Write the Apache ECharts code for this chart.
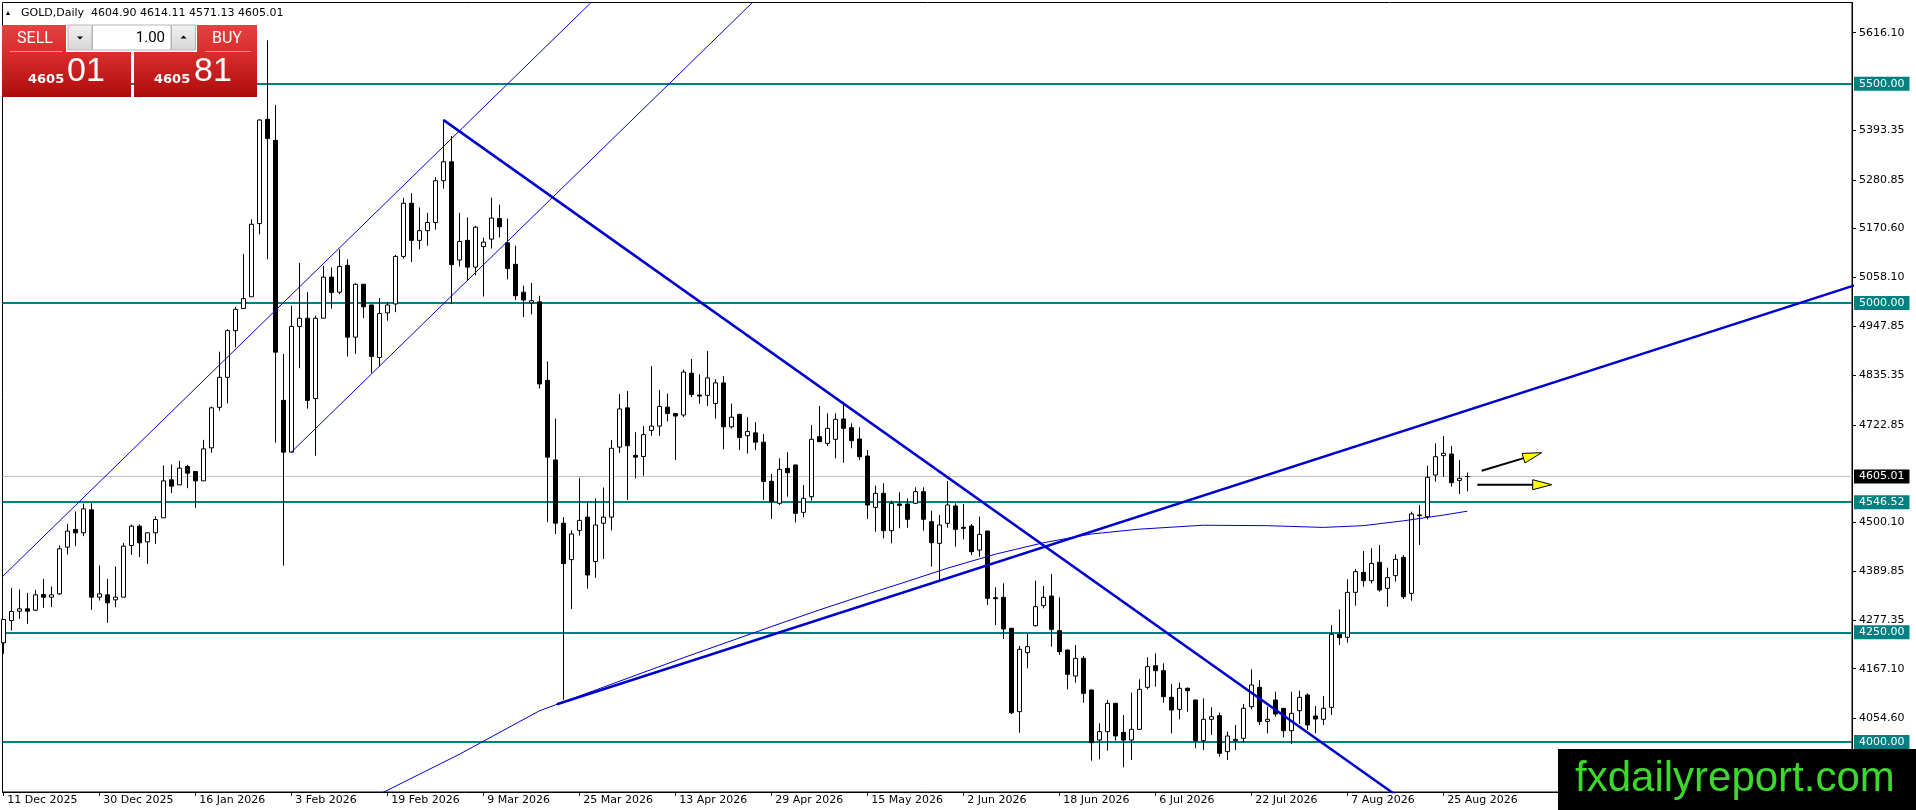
<!DOCTYPE html>
<html><head><meta charset="utf-8">
<script src="https://cdn.jsdelivr.net/npm/echarts@6/dist/echarts.min.js"></script>
<style>html,body{margin:0;padding:0;background:#fff}#c{width:1916px;height:810px}</style>
</head><body><div id="c"></div>
<script>
// ---- data ----
const opens = [4226.1,4276.9,4298.2,4303.5,4300.5,4336.2,4330.1,4337.7,4444.0,4484.3,4476.7,4529.0,4330.1,4335.4,4324.0,4330.1,4447.8,4491.9,4456.1,4476.7,4510.8,4597.4,4586.0,4627.8,4616.4,4595.1,4670.3,4762.6,4831.0,4937.2,
4987.6,5014.4,5181.2,5418.8,5370.8,4778.5,4660.5,4946.9,4965.6,4782.5,4965.6,5059.2,5025.0,5086.0,4922.5,5042.9,4995.7,4876.1,4977.8,4998.1,5106.4,5227.6,5143.0,5165.0,5183.7,5278.9,5322.0,5098.2,5143.0,5082.0,
5128.8,5145.8,5192.6,5137.3,5088.5,5025.0,5000.6,5003.0,4824.0,4642.6,4498.6,4415.6,4482.3,4512.4,4411.5,4498.6,4512.4,4671.9,4761.4,4653.2,4650.7,4710.1,4719.9,4763.0,4748.4,4745.1,4840.3,4790.7,4789.9,4771.1,
4818.3,4718.2,4746.7,4697.9,4704.4,4683.3,4594.0,4543.8,4623.6,4631.2,4523.3,4559.0,4695.8,4680.5,4689.7,4736.0,4716.2,4690.4,4651.7,4534.7,4566.6,4481.6,4542.3,4542.3,4543.9,4570.4,4502.1,4452.7,4498.3,4537.8,
4489.2,4492.2,4437.5,4480.8,4328.9,4329.7,4259.1,4069.2,4203.6,4265.1,4310.7,4332.7,4253.8,4209.7,4150.5,4190.7,4118.6,4004.7,4023.7,4088.2,4022.1,4004.7,4028.9,4124.7,4174.0,4162.6,4101.9,4074.5,4122.4,4095.8,
4003.2,4051.8,4060.1,3978.1,4003.2,4008.5,4080.6,4124.7,4047.2,4095.8,4076.8,4025.9,4071.5,4107.2,4059.3,4051.8,4079.1,4245.4,4238.6,4341.1,4386.6,4367.7,4409.4,4350.2,4379.1,4420.8,4338.8,4517.3,4513.5,4608.4,
4652.4,4656.2,4596.2,4604.90];
const highs = [4279.5,4351.3,4347.5,4339.9,4346.8,4371.9,4354.4,4447.8,4497.2,4525.3,4542.7,4544.2,4402.2,4371.9,4399.9,4453.9,4495.6,4495.6,4478.0,4514.6,4630.1,4632.3,4640.7,4631.6,4617.0,4688.5,4764.5,4889.4,4940.3,4991.9,
5112.1,5191.0,5418.8,5598.6,5451.4,4884.2,4994.1,5091.7,5025.0,4971.3,5085.2,5081.1,5122.6,5099.9,5045.4,5043.5,4996.5,5012.0,5002.2,5109.6,5239.8,5250.4,5217.9,5205.6,5287.0,5417.2,5380.6,5205.6,5195.0,5175.5,
5149.0,5240.2,5224.4,5192.6,5130.8,5039.7,5046.2,5016.9,4867.2,4737.0,4512.4,4482.3,4601.9,4547.4,4555.5,4579.9,4688.1,4793.1,4799.6,4706.0,4719.9,4856.6,4802.1,4793.9,4749.5,4848.4,4872.8,4837.9,4890.7,4826.5,
4833.8,4771.1,4747.5,4740.2,4728.8,4702.0,4610.7,4646.4,4660.1,4632.0,4585.6,4722.3,4765.6,4748.9,4748.9,4775.5,4726.1,4717.0,4665.4,4584.1,4589.4,4549.9,4568.9,4555.2,4580.3,4580.3,4527.1,4517.3,4594.7,4543.9,
4542.3,4496.8,4513.5,4481.5,4352.5,4361.6,4260.0,4218.8,4246.2,4367.7,4355.5,4382.9,4329.7,4210.5,4221.1,4196.0,4119.4,4042.7,4095.8,4089.0,4061.6,4112.5,4142.9,4193.0,4202.1,4179.3,4132.3,4135.3,4124.7,4096.5,
4099.6,4079.1,4066.9,4023.7,4038.9,4086.7,4165.7,4141.4,4080.6,4114.8,4077.5,4114.8,4117.1,4111.0,4082.1,4104.9,4266.6,4302.3,4370.7,4394.2,4435.2,4441.3,4448.9,4397.3,4427.7,4426.1,4524.9,4540.0,4629.7,4680.5,
4697.2,4674.5,4642.6,4614.11];
const lows = [4201.0,4254.1,4280.7,4269.3,4298.2,4305.8,4307.3,4335.4,4427.3,4446.3,4469.1,4301.2,4322.5,4271.6,4307.3,4330.1,4426.5,4421.2,4406.0,4451.6,4510.8,4567.0,4586.0,4578.4,4533.6,4595.1,4658.9,4755.0,4771.7,4899.3,
4987.6,5014.4,5156.8,5099.9,4682.4,4401.7,4659.0,4851.7,4759.7,4652.3,4965.6,4987.6,5020.1,4878.5,4884.2,4965.6,4841.1,4855.7,4959.9,4979.4,5101.5,5093.4,5122.6,5130.8,5167.4,5261.0,4998.1,5083.6,5051.0,5063.2,
5015.0,5124.7,5149.5,5054.3,5007.1,4968.0,4974.5,4805.3,4501.0,4474.1,4095.8,4303.3,4470.1,4349.6,4374.1,4417.2,4482.3,4658.8,4551.4,4600.3,4606.8,4697.9,4697.9,4730.4,4642.6,4740.2,4785.8,4771.1,4765.4,4737.0,
4667.0,4714.2,4665.4,4657.2,4665.4,4551.4,4508.2,4540.1,4559.0,4500.5,4511.9,4549.9,4683.5,4674.5,4646.4,4636.5,4669.2,4642.6,4508.2,4479.3,4464.1,4452.7,4486.9,4488.4,4542.3,4481.6,4399.6,4369.2,4488.4,4445.1,
4461.8,4426.1,4422.3,4312.2,4266.6,4234.8,4063.9,4021.4,4167.9,4262.9,4304.6,4217.3,4198.3,4120.1,4135.3,4089.7,3957.6,3960.6,3980.4,4003.2,3942.4,3959.1,4027.5,4120.1,4126.2,4089.7,4019.9,4051.8,4069.2,3985.7,
3981.9,4016.1,3966.7,3959.1,3981.9,3998.6,4074.5,4038.9,4019.9,4057.8,4010.8,3995.6,4041.1,4027.5,4019.9,4038.9,4061.6,4221.1,4226.4,4310.7,4354.0,4361.6,4342.6,4308.4,4365.4,4325.9,4322.1,4448.9,4507.4,4593.2,
4604.6,4581.8,4565.1,4571.13];
const closes = [4279.2,4297.4,4303.5,4298.2,4335.4,4330.1,4335.4,4440.2,4480.5,4476.7,4531.3,4330.1,4337.7,4317.2,4330.1,4446.3,4491.9,4453.9,4476.7,4507.0,4595.1,4583.0,4624.0,4612.6,4595.1,4668.0,4761.4,4831.0,4937.2,4985.8,
5010.3,5179.6,5417.2,5374.9,4888.3,4660.5,4946.9,4965.6,4778.5,4965.6,5059.2,5024.2,5083.6,4922.5,5042.9,4991.6,4878.5,4976.2,4995.7,5106.4,5227.6,5143.0,5165.0,5183.7,5278.9,5322.0,5087.6,5140.5,5082.0,5173.0,
5138.9,5193.8,5173.9,5078.7,5016.9,5007.1,5005.5,4815.9,4649.1,4498.6,4406.6,4474.1,4505.1,4380.6,4494.5,4512.4,4669.4,4758.9,4675.1,4649.1,4700.3,4719.9,4764.6,4748.4,4742.7,4843.0,4791.5,4788.2,4829.7,4818.3,
4718.2,4740.2,4693.8,4707.7,4683.3,4593.5,4547.6,4621.3,4613.7,4521.0,4555.2,4689.7,4684.3,4714.7,4735.3,4714.7,4686.6,4650.2,4540.1,4566.6,4481.6,4543.9,4539.3,4507.4,4570.4,4507.4,4454.2,4494.5,4540.1,4484.6,
4486.9,4433.7,4473.2,4327.4,4326.6,4257.6,4066.9,4211.2,4217.3,4308.4,4329.7,4256.8,4205.9,4154.3,4190.7,4111.0,3998.6,4023.7,4088.2,4013.8,4004.7,4028.9,4120.1,4171.8,4162.6,4103.4,4073.0,4122.4,4117.1,4003.2,
4051.8,4057.8,3974.3,4013.8,4006.2,4076.8,4130.0,4046.4,4051.8,4063.9,4025.9,4065.4,4101.9,4038.9,4052.5,4076.8,4245.4,4237.8,4341.1,4388.2,4367.7,4407.1,4346.4,4374.5,4416.3,4331.2,4519.6,4515.7,4603.1,4650.2,
4657.8,4590.9,4600.8,4605.01];

// date label shown every 12 bars (bar 0 = 11 Dec 2025)
const dateTicks = ['11 Dec 2025','30 Dec 2025','16 Jan 2026','3 Feb 2026','19 Feb 2026','9 Mar 2026','25 Mar 2026','13 Apr 2026','29 Apr 2026','15 May 2026','2 Jun 2026','18 Jun 2026','6 Jul 2026','22 Jul 2026','7 Aug 2026','25 Aug 2026'];
const dateTickStep = 12;
const priceTicks = [5616.10,5393.35,5280.85,5170.60,5058.10,4947.85,4835.35,4722.85,4500.10,4389.85,4277.35,4167.10,4054.60];
const levels = [5500.00, 5000.00, 4546.52, 4250.00, 4000.00];
const lastPrice = 4605.01;
const header = 'GOLD,Daily  4604.90 4614.11 4571.13 4605.01';
// moving average (bar index, value)
const maLine = [[47,3881],[57,3972],[67,4071],[75,4125],[85,4192],[96,4263],[102,4301],[108,4337],[113,4366],[118,4396],[124,4428],[130,4454],[136,4474],[142,4485],[150,4494],[158,4493],[165,4489],[170,4493],[175,4504],[180,4517],[183,4526]];
// trend lines (bar index, price)
const channelUpper = [[-1,4361],[80,5801]];
const channelLower = [[36,4660.5],[100,5797.8]];
const downTrend = [[55,5417.5],[180,3802.5]];
const upTrend = [[69.2,4086],[240,5091]];
// arrows [fromBar, fromPrice, toBar, toPrice]
const arrows = [[184.8,4618.2,192.3,4659.2],[184.25,4586.3,193.55,4586.3]];

const FONT = 'DejaVu Sans';
const candleData = opens.map((o, i) => [i, o, closes[i], lows[i], highs[i]]);
const tickBars = dateTicks.map((_, k) => k * dateTickStep);

function lineSeries(data, width, z) {
  return { type: 'line', data, showSymbol: false, symbol: 'none', silent: true, z: z || 5,
    lineStyle: { color: '#0000cd', width }, animation: false };
}

const chart = echarts.init(document.getElementById('c'), null, { renderer: 'canvas' });
const levelMarks = levels.map(v => ({
  yAxis: v,
  lineStyle: { color: '#008080', width: 2, type: 'solid' },
  label: { show: true, position: 'end', distance: 2, formatter: v.toFixed(2),
    backgroundColor: '#008080', color: '#fff', fontFamily: FONT, fontSize: 11, lineHeight: 12, padding: [1, 5, 1, 5] }
}));
levelMarks.unshift({
  yAxis: lastPrice,
  lineStyle: { color: '#c0c0c0', width: 1, type: 'solid' },
  label: { show: true, position: 'end', distance: 2, formatter: lastPrice.toFixed(2),
    backgroundColor: '#000', color: '#fff', fontFamily: FONT, fontSize: 11, lineHeight: 12, padding: [1, 5, 1, 5] }
});

const option = {
  animation: false,
  backgroundColor: '#fff',
  grid: { left: 2.5, right: 64, top: 2.5, bottom: 18, show: true, borderColor: '#000', borderWidth: 1, backgroundColor: 'transparent' },
  xAxis: {
    type: 'value', min: -0.1, max: 231.0875,
    splitLine: { show: false },
    axisLine: { show: true, onZero: false, lineStyle: { color: '#000', width: 1 } },
    axisTick: { show: true, customValues: tickBars, length: 4, lineStyle: { color: '#000' } },
    axisLabel: { show: true, customValues: tickBars, align: 'left', margin: 3, padding: [0, 0, 0, 4],
      color: '#000', fontFamily: FONT, fontSize: 11,
      formatter: v => dateTicks[Math.round(v / dateTickStep)] || '' }
  },
  yAxis: {
    type: 'value', position: 'right', min: 3886.2, max: 5684.9,
    splitLine: { show: false },
    axisLine: { show: true, onZero: false, lineStyle: { color: '#000', width: 1 } },
    axisTick: { show: true, customValues: priceTicks, length: 4, lineStyle: { color: '#000' } },
    axisLabel: { show: true, customValues: priceTicks, margin: 7, color: '#000', fontFamily: FONT, fontSize: 11,
      formatter: v => v.toFixed(2) }
  },
  series: [
    {
      type: 'candlestick', data: candleData, barWidth: 4, z: 3,
      itemStyle: { color: '#fff', color0: '#000', borderColor: '#000', borderColor0: '#000', borderWidth: 1 },
      markLine: { silent: true, symbol: ['none', 'none'], animation: false, z: 2, data: levelMarks }
    },
    lineSeries(maLine, 1, 6),
    lineSeries(channelUpper, 1, 6),
    lineSeries(channelLower, 1, 6),
    lineSeries(downTrend, 2.5, 7),
    lineSeries(upTrend, 2.5, 7),
    {
      type: 'custom', data: arrows, z: 8, silent: true,
      renderItem: (params, api) => {
        const p1 = api.coord([api.value(0), api.value(1)]);
        const p2 = api.coord([api.value(2), api.value(3)]);
        const dx = p2[0] - p1[0], dy = p2[1] - p1[1];
        const len = Math.hypot(dx, dy), ux = dx / len, uy = dy / len;
        const hl = 19, hw = 5;
        const bx = p2[0] - ux * hl, by = p2[1] - uy * hl;
        const nx = -uy, ny = ux;
        return { type: 'group', children: [
          { type: 'line', shape: { x1: p1[0], y1: p1[1], x2: bx + ux * 2, y2: by + uy * 2 }, style: { stroke: '#000', lineWidth: 2 } },
          { type: 'polygon', shape: { points: [[p2[0], p2[1]], [bx + nx * hw, by + ny * hw], [bx - nx * hw, by - ny * hw]] },
            style: { fill: '#ffff00', stroke: '#000', lineWidth: 1 } }
        ] };
      }
    }
  ],
  graphic: [
    // header
    { type: 'polygon', z: 100, shape: { points: [[6, 15], [10, 15], [8, 11]] }, style: { fill: '#000' } },
    { type: 'text', z: 100, x: 21, y: 13, style: { text: header, fill: '#000', font: '11px "DejaVu Sans"', textVerticalAlign: 'middle', verticalAlign: 'middle' } },
    // one-click trading panel
    { type: 'rect', z: 100, shape: { x: 2, y: 25, width: 129, height: 72 },
      style: { fill: new echarts.graphic.LinearGradient(0, 0, 0, 1, [{ offset: 0, color: '#e44141' }, { offset: 0.4, color: '#d92c2c' }, { offset: 1, color: '#ad0c0c' }]) } },
    { type: 'rect', z: 100, shape: { x: 134, y: 25, width: 123, height: 72 },
      style: { fill: new echarts.graphic.LinearGradient(0, 0, 0, 1, [{ offset: 0, color: '#e44141' }, { offset: 0.4, color: '#d92c2c' }, { offset: 1, color: '#ad0c0c' }]) } },
    { type: 'rect', z: 101, shape: { x: 66, y: 24, width: 131, height: 28 }, style: { fill: '#fff' } },
    { type: 'rect', z: 102, shape: { x: 68, y: 25, width: 24, height: 25 },
      style: { fill: new echarts.graphic.LinearGradient(0, 0, 0, 1, [{ offset: 0, color: '#f2f2f2' }, { offset: 1, color: '#d6d6d6' }]), stroke: '#b5b5b5', lineWidth: 1 } },
    { type: 'rect', z: 102, shape: { x: 92.5, y: 25, width: 78.5, height: 25 }, style: { fill: '#fff', stroke: '#b5b5b5', lineWidth: 1 } },
    { type: 'rect', z: 102, shape: { x: 171.5, y: 25, width: 24, height: 25 },
      style: { fill: new echarts.graphic.LinearGradient(0, 0, 0, 1, [{ offset: 0, color: '#f2f2f2' }, { offset: 1, color: '#d6d6d6' }]), stroke: '#b5b5b5', lineWidth: 1 } },
    { type: 'polygon', z: 103, shape: { points: [[77, 36.5], [83, 36.5], [80, 39.5]] }, style: { fill: '#000' } },
    { type: 'polygon', z: 103, shape: { points: [[180.5, 38.5], [186.5, 38.5], [183.5, 35.5]] }, style: { fill: '#000' } },
    { type: 'text', z: 103, x: 165, y: 38, style: { text: '1.00', fill: '#000', font: '15px Roboto', textAlign: 'right', align: 'right', textVerticalAlign: 'middle', verticalAlign: 'middle' } },
    { type: 'text', z: 103, x: 35, y: 39, style: { text: 'SELL', fill: '#fff', font: '16px Roboto', textAlign: 'center', align: 'center', textVerticalAlign: 'middle', verticalAlign: 'middle' } },
    { type: 'text', z: 103, x: 227, y: 39, style: { text: 'BUY', fill: '#fff', font: '16px Roboto', textAlign: 'center', align: 'center', textVerticalAlign: 'middle', verticalAlign: 'middle' } },
    { type: 'line', z: 103, shape: { x1: 10, y1: 51.5, x2: 62, y2: 51.5 }, style: { stroke: '#f09a9a', lineWidth: 1 } },
    { type: 'line', z: 103, shape: { x1: 205, y1: 51.5, x2: 251, y2: 51.5 }, style: { stroke: '#f09a9a', lineWidth: 1 } },
    { type: 'text', z: 103, x: 28, y: 86, style: { text: '4605', fill: '#fff', font: 'bold 13px "DejaVu Sans"', textVerticalAlign: 'bottom', verticalAlign: 'bottom' } },
    { type: 'text', z: 103, x: 67, y: 89, style: { text: '01', fill: '#fff', font: '34px "Liberation Sans"', textVerticalAlign: 'bottom', verticalAlign: 'bottom' } },
    { type: 'text', z: 103, x: 154, y: 86, style: { text: '4605', fill: '#fff', font: 'bold 13px "DejaVu Sans"', textVerticalAlign: 'bottom', verticalAlign: 'bottom' } },
    { type: 'text', z: 103, x: 194, y: 89, style: { text: '81', fill: '#fff', font: '34px "Liberation Sans"', textVerticalAlign: 'bottom', verticalAlign: 'bottom' } },
    // watermark
    { type: 'rect', z: 110, shape: { x: 1558, y: 749, width: 358, height: 61 }, style: { fill: '#000' } },
    { type: 'text', z: 111, x: 1575, y: 779, style: { text: 'fxdailyreport.com', fill: '#3cd82c', font: '42px "Liberation Sans"', textVerticalAlign: 'middle', verticalAlign: 'middle' } }
  ]
};
chart.setOption(option);
</script>
</body></html>
